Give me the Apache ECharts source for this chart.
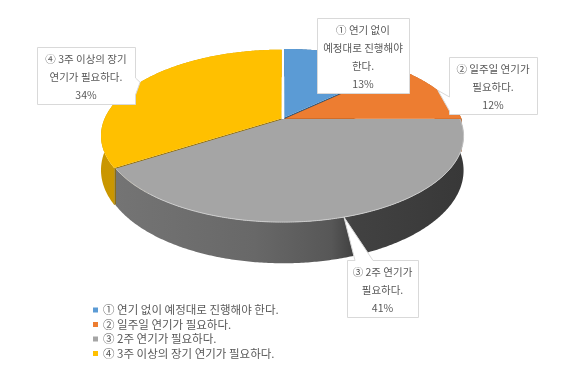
<!DOCTYPE html>
<html><head><meta charset="utf-8">
<script src="https://cdn.jsdelivr.net/npm/echarts@6/dist/echarts.min.js"></script>
<style>html,body{margin:0;padding:0;background:#fff}#c{width:575px;height:387px}</style>
</head><body><div id="c"></div>
<script>
// ---- data ----
const categories = ['① 연기 없이 예정대로 진행해야 한다.', '② 일주일 연기가 필요하다.', '③ 2주 연기가 필요하다.', '④ 3주 이상의 장기 연기가 필요하다.'];
const values = [13, 12, 41, 34];
const labelLines = [['① 연기 없이', '예정대로 진행해야', '한다.'], ['② 일주일 연기가', '필요하다.'], ['③ 2주 연기가', '필요하다.'], ['④ 3주 이상의 장기', '연기가 필요하다.']];

// ---- layout / style ----
const PIE = {cx: 283, cy: 119, A: 177, B: 82.7, p: 0.198, h: 33};
const EXPLODE = [0.02, 0.01, 0, 0.01];
const TOP = ['#5b9bd5', '#ed7d31', '#a5a5a5', '#ffc000'];
const SIDE = ['#41719c', '#b05a20',
  {type: 'linear', x: 0, y: 0, x2: 1, y2: 0, colorStops: [{offset: 0, color: '#747474'}, {offset: 0.4, color: '#686868'}, {offset: 0.62, color: '#575757'}, {offset: 0.68, color: '#424242'}, {offset: 1, color: '#383838'}]},
  {type: 'linear', x: 0, y: 0, x2: 1, y2: 0, colorStops: [{offset: 0, color: '#c99600'}, {offset: 1, color: '#d9a300'}]}];
const WALL = ['#2f5a80', '#7e4015', '#505050', '#8f6b00'];
const RIM = [null, null, '#cdcdcd', null];
const BOXES = [
  {x: 317, y: 18, w: 92, side: null},
  {x: 449, y: 57, w: 88, side: 'left', a: 97, b: 111},
  {x: 347, y: 260, w: 71, side: 'top', a: 355, b: 373},
  {x: 37, y: 47, w: 98, side: 'right', a: 78, b: 95}
];
const FONT = '"Noto Sans CJK KR", "Noto Sans", sans-serif';

function proj(X, Z, dz) {
  const s = 1 / (1 + PIE.p * Z);
  return [PIE.cx + PIE.A * X * s, PIE.cy - PIE.B * Z * s + dz * s];
}
function calloutPoints(b, h, tip) {
  const L = b.x + .5, T = b.y + .5, R = b.x + b.w + .5, Bt = b.y + h + .5;
  if (b.side === 'left') return [[L, T], [R, T], [R, Bt], [L, Bt], [L, b.b], tip, [L, b.a]];
  if (b.side === 'right') return [[L, T], [R, T], [R, b.a], tip, [R, b.b], [R, Bt], [L, Bt]];
  if (b.side === 'top') return [[L, T], [b.a, T], tip, [b.b, T], [R, T], [R, Bt], [L, Bt]];
  return [[L, T], [R, T], [R, Bt], [L, Bt]];
}

function renderSlice(params, api) {
  const i = params.seriesIndex;
  const v = api.value(0);
  const total = values.reduce((a, b) => a + b, 0);
  let before = 0;
  for (let k = 0; k < i; k++) before += values[k];
  const a1 = before / total * 2 * Math.PI, a2 = (before + v) / total * 2 * Math.PI, am = (a1 + a2) / 2;
  const ox = EXPLODE[i] * Math.sin(am), oz = EXPLODE[i] * Math.cos(am);
  const edge = (t, dz) => proj(ox + Math.sin(t), oz + Math.cos(t), dz);
  const n = Math.max(8, Math.ceil((a2 - a1) / 0.01));
  const topArc = [], botArc = [];
  for (let k = 0; k <= n; k++) {
    const t = a1 + (a2 - a1) * k / n;
    topArc.push(edge(t, 0));
    botArc.push(edge(t, PIE.h));
  }
  const c0 = proj(ox, oz, 0), c1 = proj(ox, oz, PIE.h);
  const children = [];
  [a1, a2].forEach(t => {
    children.push({type: 'polygon', z2: 1, shape: {points: [c0, edge(t, 0), edge(t, PIE.h), c1]}, style: {fill: WALL[i]}});
  });
  children.push({type: 'polygon', z2: 2, shape: {points: topArc.concat(botArc.slice().reverse())}, style: {fill: SIDE[i]}});
  children.push({type: 'polygon', z2: 10, shape: {points: [c0].concat(topArc)}, style: {fill: api.visual('color')}});
  if (RIM[i]) children.push({type: 'polyline', z2: 11, shape: {points: topArc}, style: {stroke: RIM[i], lineWidth: 1, fill: null}});
  // data callout
  const b = BOXES[i];
  const lines = labelLines[i].concat([Math.round(v / total * 100) + '%']);
  const h = lines.length * 18 + 3;
  children.push({type: 'polygon', z2: 20, shape: {points: calloutPoints(b, h, edge(am, 0))}, style: {fill: '#ffffff', stroke: '#d9d9d9', lineWidth: 1}});
  children.push({type: 'text', z2: 21, style: {text: lines.join('\n'), x: b.x + b.w / 2, y: b.y + 3, align: 'center', verticalAlign: 'top', fill: '#595959', fontSize: 10.5, fontFamily: FONT, lineHeight: 18}});
  return {type: 'group', children};
}

const chart = echarts.init(document.getElementById('c'), null, {renderer: 'canvas'});
chart.setOption({
  animation: false,
  backgroundColor: '#ffffff',
  legend: {
    orient: 'vertical', left: 93, top: 303, padding: 0, itemWidth: 5, itemHeight: 5, itemGap: 0.5, icon: 'rect',
    textStyle: {color: '#595959', fontSize: 11.5, fontFamily: FONT, lineHeight: 14},
    data: categories
  },
  series: categories.map((name, i) => ({
    type: 'custom', name: name, coordinateSystem: 'none',
    itemStyle: {color: TOP[i]},
    renderItem: renderSlice,
    data: [values[i]]
  }))
});
</script></body></html>
